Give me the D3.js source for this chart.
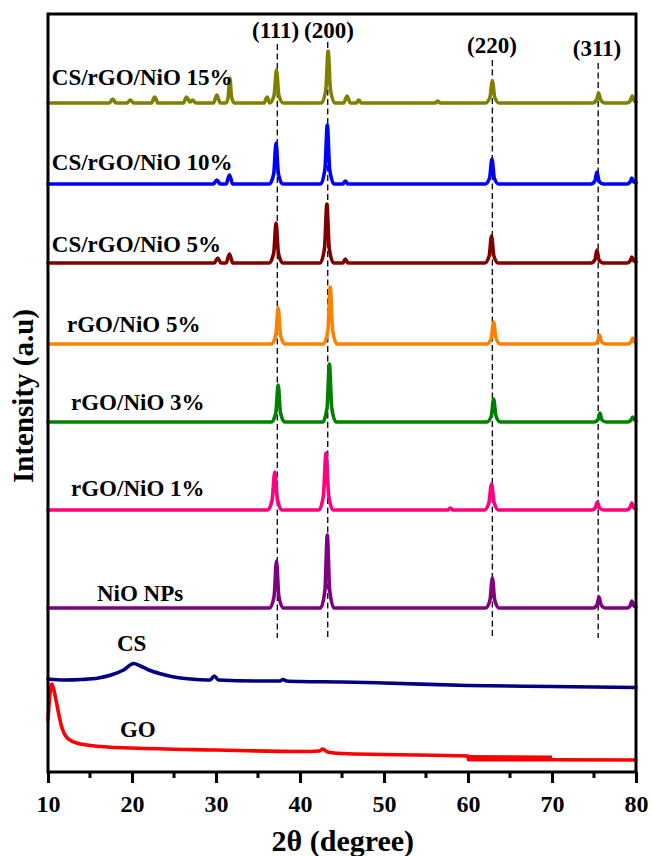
<!DOCTYPE html>
<html>
<head>
<meta charset="utf-8">
<script src="https://cdn.jsdelivr.net/npm/d3@7"></script>
<style>
  html, body { margin: 0; padding: 0; background: #fff; }
  svg text { font-family: "Liberation Serif", "Times New Roman", serif; font-weight: bold; fill: #000; }
</style>
</head>
<body>
<div id="chart"></div>
<script>
// XRD patterns, 2θ (degree) vs intensity (a.u.). NiO-based patterns are relative to their own baseline.
const cs15Pattern = [[10,0],[17.3,0],[17.7,4],[18.1,0],[19.4,0],[19.8,3],[20.2,0],[22.3,0],[22.7,6],[23.1,0],[26.1,0],[26.5,6],[26.9,1],[27.2,3],[27.6,0],[29.7,0],[30.1,8],[30.5,0],[31.2,0],[31.45,6],[31.65,25],[31.85,6],[32.2,0],[35.7,0],[36.1,6],[36.4,0],[36.92,8],[37.2,33],[37.48,8],[38.0,0],[42.55,0],[43.07,13],[43.35,52],[43.63,13],[44.15,0],[45.2,0],[45.6,7],[46.0,0],[46.7,0],[47.0,3],[47.3,0],[56.1,0],[56.4,2],[56.7,0],[62.1,0],[62.62,6],[62.9,22],[63.18,6],[63.7,0],[74.85,0],[75.3,3],[75.55,10],[75.8,3],[76.3,0],[78.9,0],[79.3,2],[79.55,7],[79.8,2],[80,1]];
const cs10Pattern = [[10,0],[29.7,0],[30.1,4],[30.5,0],[31.2,0],[31.6,9],[32.0,0],[36.35,0],[36.87,10],[37.15,41],[37.43,10],[37.95,0],[42.45,0],[42.97,15],[43.25,59],[43.53,15],[44.05,0],[45.1,0],[45.4,3],[45.7,0],[62.05,0],[62.57,6],[62.85,25],[63.13,6],[63.65,0],[74.65,0],[75.1,3],[75.35,12],[75.6,3],[76.1,0],[78.9,0],[79.3,2],[79.5,6],[79.75,2],[80,1]];
const cs5Pattern = [[10,0],[29.8,0],[30.2,5],[30.6,0],[31.2,0],[31.6,9],[32.0,0],[36.35,0],[36.87,10],[37.15,40],[37.43,10],[37.95,0],[42.4,0],[42.92,15],[43.2,59],[43.48,15],[44.0,0],[45.1,0],[45.4,4],[45.7,0],[62.0,0],[62.52,7],[62.8,27],[63.08,7],[63.6,0],[74.65,0],[75.1,3],[75.35,13],[75.6,3],[76.1,0],[78.9,0],[79.3,2],[79.5,6],[79.75,2],[80,1]];
const rgo5Pattern = [[10,0],[36.6,0],[37.12,9],[37.4,36],[37.68,9],[38.2,0],[42.8,0],[43.32,14],[43.6,57],[43.88,14],[44.4,0],[62.25,0],[62.77,6],[63.05,22],[63.33,6],[63.85,0],[74.95,0],[75.4,2],[75.65,9],[75.9,2],[76.4,0],[79.0,0],[79.4,2],[79.6,6],[79.85,2],[80,1]];
const rgo3Pattern = [[10,0],[36.6,0],[37.12,9],[37.4,37],[37.68,9],[38.2,0],[42.7,0],[43.22,14],[43.5,58],[43.78,14],[44.3,0],[62.25,0],[62.77,6],[63.05,23],[63.33,6],[63.85,0],[75.0,0],[75.45,2],[75.7,9],[75.95,2],[76.45,0],[79.0,0],[79.4,2],[79.6,5],[79.85,2],[80,1]];
const rgo1Pattern = [[10,0],[36.15,0],[36.68,10],[37.0,38],[37.32,10],[37.85,0],[42.25,0],[42.78,14],[43.1,57],[43.42,14],[43.95,0],[57.6,0],[57.9,2],[58.2,0],[61.95,0],[62.48,7],[62.8,26],[63.12,7],[63.65,0],[74.7,0],[75.15,2],[75.4,8],[75.65,2],[76.15,0],[78.85,0],[79.25,2],[79.5,7],[79.75,2],[80,1]];
const nioPattern = [[10,0],[36.4,0],[36.92,12],[37.2,47],[37.48,12],[38.0,0],[42.45,0],[42.97,18],[43.25,73],[43.53,18],[44.05,0],[62.1,0],[62.62,8],[62.9,30],[63.18,8],[63.7,0],[74.9,0],[75.35,3],[75.6,11],[75.85,3],[76.35,0],[78.9,0],[79.3,2],[79.5,7],[79.75,2],[80,1]];
// absolute intensities
const csPattern = [[10,93],[12,92],[14,92.5],[16,94],[17.5,97],[19,102],[20.2,108.5],[21,106],[22,102],[23.5,98],[25,95],[27,93],[29.3,92],[29.8,96],[30.3,92],[35,91],[37.6,91],[38,92.5],[38.4,91],[40,90.5],[45,90],[50,89],[60,86.5],[70,85.5],[80,84.5]];
const goPattern = [[10,52],[10.2,75],[10.45,88],[10.7,82],[11.0,70],[11.3,57],[11.6,46],[12.2,35],[13.4,29],[16.2,25.5],[20,24],[30,22],[40,20.5],[42.3,21],[42.7,23],[43.3,20],[45,18.5],[50,17.5],[60,16],[60.05,12.3],[70,12.3],[80,12]];
const goOverlap = [[60,15.3],[70,14.6]];

const sampleNames = ["CS/rGO/NiO 15%", "CS/rGO/NiO 10%", "CS/rGO/NiO 5%", "rGO/NiO 5%", "rGO/NiO 3%", "rGO/NiO 1%", "NiO NPs", "CS", "GO"];
const samplePatterns = [cs15Pattern, cs10Pattern, cs5Pattern, rgo5Pattern, rgo3Pattern, rgo1Pattern, nioPattern, csPattern, goPattern];
const sampleOffsets = [669, 588, 509, 428, 350, 262, 164, 0, 0];
const sampleColors = ["#808000", "#0000ff", "#800000", "#ff8000", "#008000", "#ff0080", "#800080", "#000080", "#ff0000"];

const planeLabels = ["(111)", "(200)", "(220)", "(311)"];
const planePositions = [37.3, 43.3, 62.9, 75.5];

const xTicks = [10, 20, 30, 40, 50, 60, 70, 80];
const xMinorTicks = [15, 25, 35, 45, 55, 65, 75];

// layout: label anchors in chart units [2θ, intensity]
const sampleLabelAt = [[10.45, 687], [10.45, 602], [10.45, 520], [12.26, 440], [12.74, 362], [12.74, 276], [15.83, 171], [18.2, 121], [18.57, 35]];
const planeLabelAt = [[37.1, 734], [43.45, 734], [62.86, 719], [75.36, 716]];
const planeLineTop = [728, 730, 712, 709];
const planeLineBottom = 134;

const width = 652, height = 856;
const margin = { top: 14, right: 16, bottom: 84, left: 48 };

const svg = d3.select("#chart").append("svg")
    .attr("width", width)
    .attr("height", height);

const x = d3.scaleLinear()
    .domain([10, 80])
    .range([margin.left, width - margin.right]);

const y = d3.scaleLinear()
    .domain([0, height - margin.bottom - margin.top])
    .range([height - margin.bottom, margin.top]);

// dashed reference lines for NiO planes
svg.append("g")
    .attr("stroke", "#111")
    .attr("stroke-width", 1.4)
    .attr("stroke-dasharray", "6,3.5")
  .selectAll("line")
  .data(planePositions)
  .join("line")
    .attr("x1", d => x(d))
    .attr("x2", d => x(d))
    .attr("y1", (d, i) => y(planeLineTop[i]))
    .attr("y2", y(planeLineBottom));

const line = d3.line()
    .x(d => x(d[0]))
    .y(d => y(d[1]))
    .curve(d3.curveMonotoneX);

svg.append("g")
    .attr("fill", "none")
    .attr("stroke-width", 3.6)
    .attr("stroke-linejoin", "round")
    .attr("stroke-linecap", "round")
  .selectAll("path")
  .data(samplePatterns)
  .join("path")
    .attr("stroke", (d, i) => sampleColors[i])
    .attr("d", (d, i) => line(d.map(p => [p[0], p[1] + sampleOffsets[i]])));

svg.append("path")
    .attr("fill", "none")
    .attr("stroke", sampleColors[8])
    .attr("stroke-width", 3.6)
    .attr("d", d3.line().x(d => x(d[0])).y(d => y(d[1]))(goOverlap));

svg.append("g")
    .attr("font-size", 23)
  .selectAll("text")
  .data(sampleNames)
  .join("text")
    .attr("x", (d, i) => x(sampleLabelAt[i][0]))
    .attr("y", (d, i) => y(sampleLabelAt[i][1]))
    .text(d => d);

svg.append("g")
    .attr("font-size", 23)
    .attr("text-anchor", "middle")
  .selectAll("text")
  .data(planeLabels)
  .join("text")
    .attr("x", (d, i) => x(planeLabelAt[i][0]))
    .attr("y", (d, i) => y(planeLabelAt[i][1]))
    .text(d => d);

// frame
svg.append("rect")
    .attr("x", margin.left)
    .attr("y", margin.top)
    .attr("width", width - margin.left - margin.right)
    .attr("height", height - margin.top - margin.bottom)
    .attr("fill", "none")
    .attr("stroke", "#000")
    .attr("stroke-width", 3);

const xAxis = svg.append("g")
    .attr("transform", `translate(0,${height - margin.bottom})`)
    .call(d3.axisBottom(x).tickValues(xTicks).tickSize(11).tickSizeOuter(0).tickPadding(12));
xAxis.select(".domain").remove();
xAxis.selectAll(".tick line").attr("stroke-width", 3);
xAxis.selectAll(".tick text")
    .attr("font-size", 24)
    .attr("font-family", "Liberation Serif, Times New Roman, serif");

svg.append("g")
    .attr("stroke", "#000")
    .attr("stroke-width", 3)
  .selectAll("line")
  .data(xMinorTicks)
  .join("line")
    .attr("x1", d => x(d))
    .attr("x2", d => x(d))
    .attr("y1", height - margin.bottom)
    .attr("y2", height - margin.bottom + 6);

svg.append("text")
    .attr("x", x(45.1))
    .attr("y", 851)
    .attr("text-anchor", "middle")
    .attr("font-size", 30)
    .text("2θ (degree)");

svg.append("text")
    .attr("transform", `translate(33,${y(376)}) rotate(-90)`)
    .attr("text-anchor", "middle")
    .attr("font-size", 29)
    .text("Intensity (a.u)");
</script>
</body>
</html>
